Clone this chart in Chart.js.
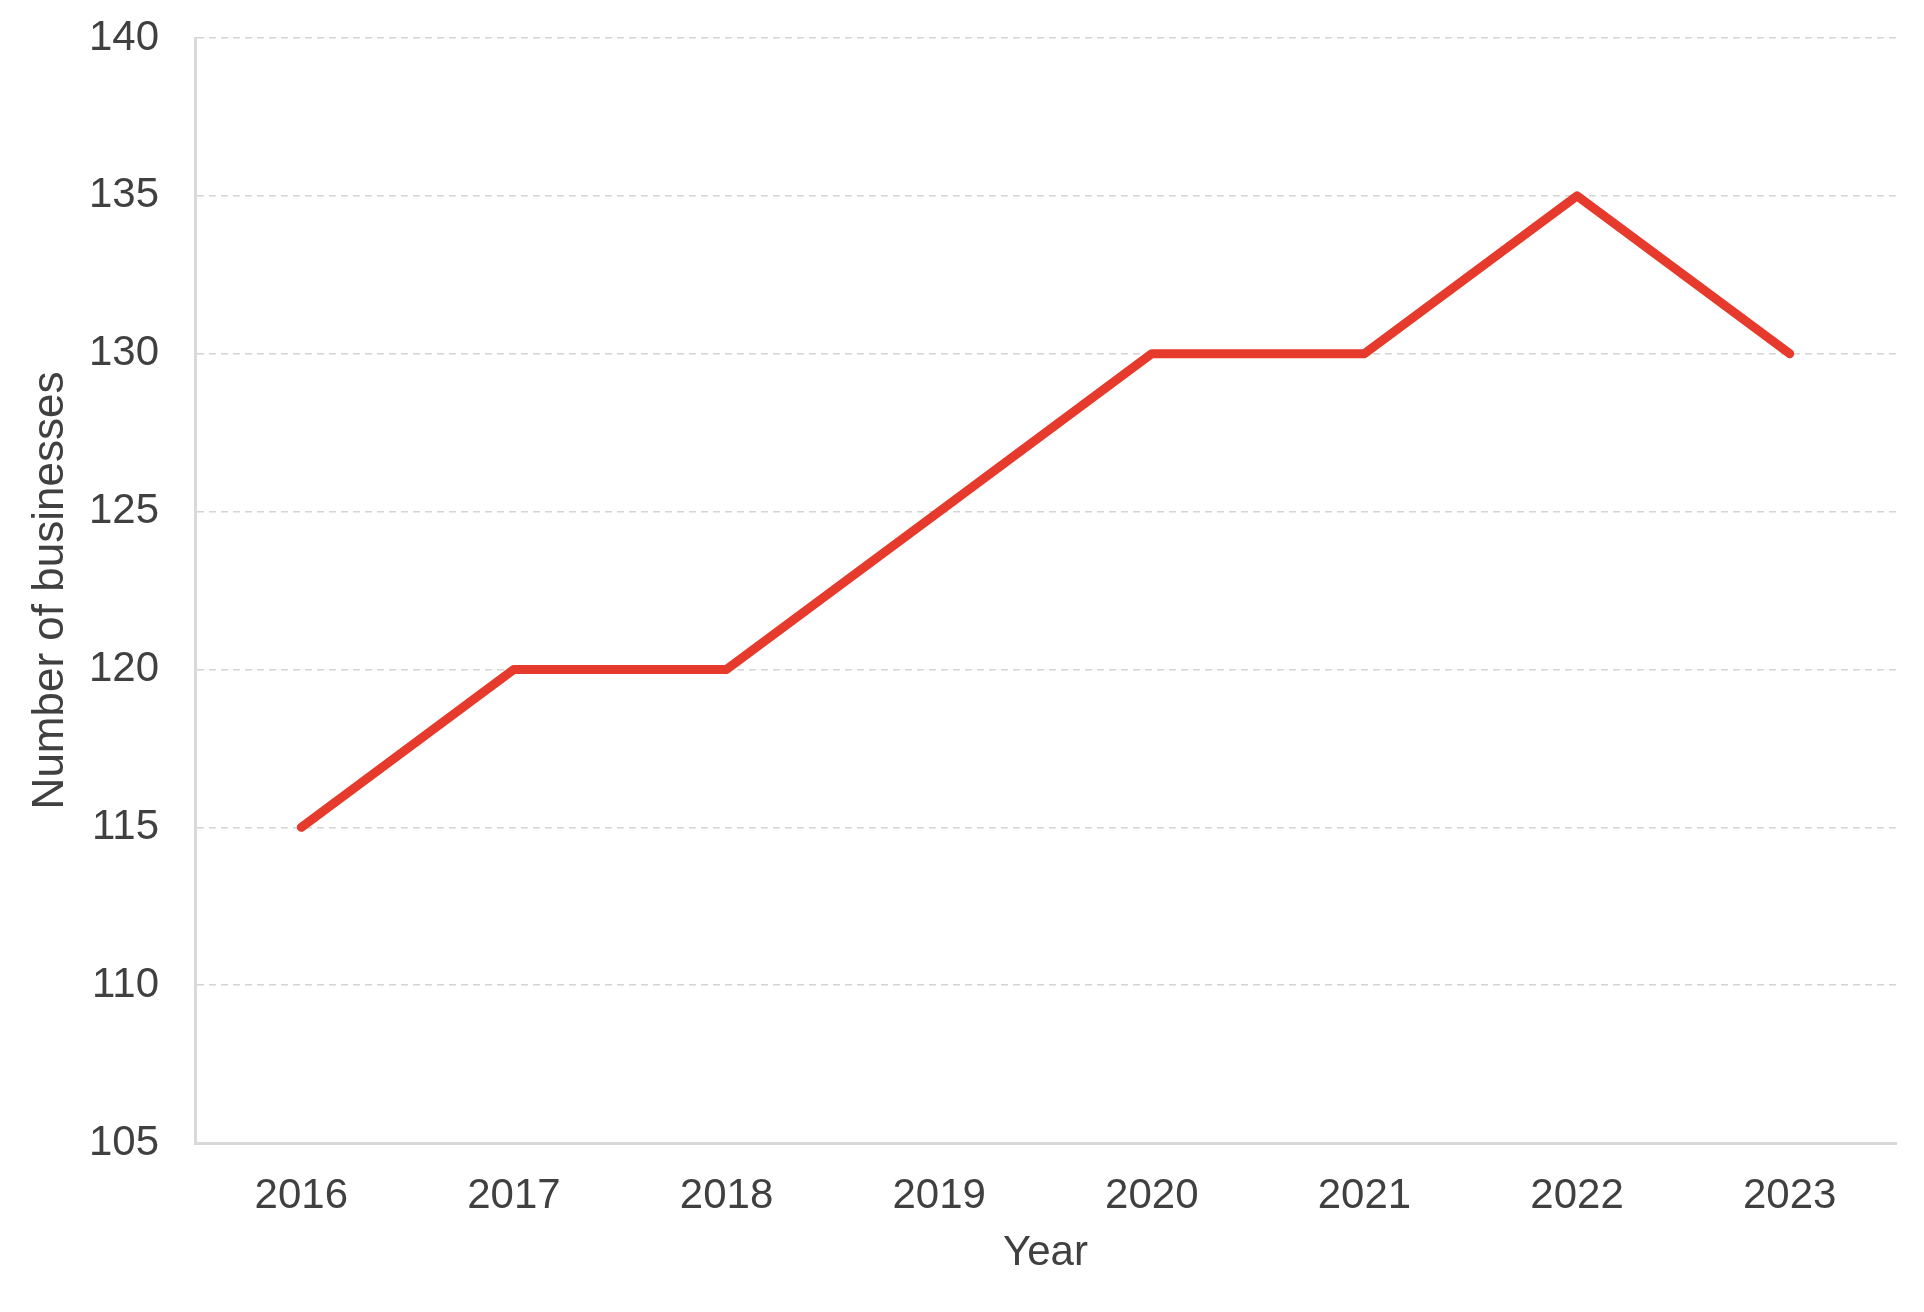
<!DOCTYPE html>
<html>
<head>
<meta charset="utf-8">
<script src="https://cdn.jsdelivr.net/npm/chart.js@4/dist/chart.umd.min.js"></script>
<style>
  html, body { margin: 0; padding: 0; background: #fff; }
  #wrap { width: 1924px; height: 1312px; }
</style>
</head>
<body>
<div id="wrap"><canvas id="chart" width="1924" height="1312"></canvas></div>
<script>
// chart data
const years = ['2016', '2017', '2018', '2019', '2020', '2021', '2022', '2023'];
const businesses = [115, 120, 120, 125, 130, 130, 135, 130];
const yMin = 105;
const yMax = 140;
const yStep = 5;

const textColor = '#404040';
const gridColor = '#d9d9d9';
const font = 'Liberation Sans, Arial, sans-serif';

const ctx = document.getElementById('chart').getContext('2d');
new Chart(ctx, {
  type: 'line',
  data: {
    labels: years,
    datasets: [{
      label: 'Number of businesses',
      data: businesses,
      borderColor: '#e63a2c',
      backgroundColor: '#e63a2c',
      borderWidth: 9,
      borderCapStyle: 'round',
      borderJoinStyle: 'round',
      pointRadius: 0,
      tension: 0
    }]
  },
  options: {
    responsive: false,
    animation: false,
    layout: {
      padding: { left: 24, right: 28, top: 38, bottom: 33 }
    },
    plugins: {
      legend: { display: false },
      tooltip: { enabled: false }
    },
    scales: {
      x: {
        offset: true,
        grid: { display: false, drawTicks: false },
        border: { display: true, color: gridColor, width: 3 },
        ticks: { color: textColor, font: { family: font, size: 42 }, padding: 28 },
        title: {
          display: true,
          text: 'Year',
          color: textColor,
          font: { family: font, size: 42 },
          padding: 0
        },
        afterFit(scale) { scale.height = 136; }
      },
      y: {
        min: yMin,
        max: yMax,
        grid: { color: '#d4d4d4', lineWidth: 1.5, drawTicks: false },
        border: { display: true, color: gridColor, width: 3, dash: [7, 5] },
        ticks: {
          stepSize: yStep,
          color: textColor,
          font: { family: font, size: 42 },
          padding: 36
        },
        title: {
          display: true,
          text: 'Number of businesses',
          color: textColor,
          font: { family: font, size: 44 },
          padding: 0
        },
        afterFit(scale) {
          scale.width = 171;
          scale.paddingTop = 0;
          scale.paddingBottom = 0;
        }
      }
    }
  }
});
</script>
</body>
</html>
